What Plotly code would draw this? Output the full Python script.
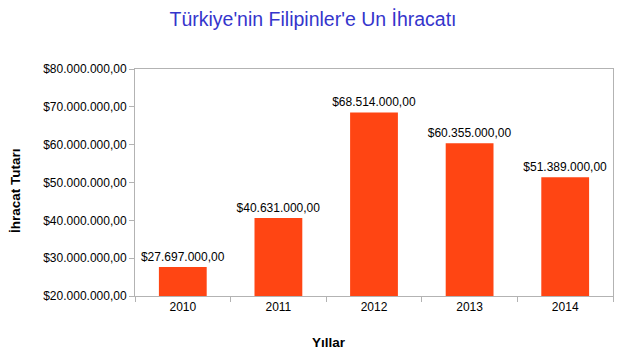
import plotly.graph_objects as go

years = ["2010", "2011", "2012", "2013", "2014"]
values = [27697000, 40631000, 68514000, 60355000, 51389000]

FONT = "Liberation Sans, Arial"

fig = go.Figure(go.Bar(
    x=years, y=values, width=0.5,
    marker=dict(color="#FF4513", line=dict(width=0)),
    texttemplate="$%{y:,.2f}", textposition="outside", constraintext="none",
    textfont=dict(family=FONT, size=12, color="#000000"),
    cliponaxis=False, hoverinfo="skip",
))

fig.update_layout(
    width=621, height=360,
    margin=dict(l=135, r=8, t=69, b=64),
    paper_bgcolor="white", plot_bgcolor="white",
    separators=",.",
    font=dict(family=FONT, size=12, color="#000000"),
    title=dict(text="Türkiye'nin Filipinler'e Un İhracatı", x=313/621, xanchor="center",
               xref="container", y=1 - 19/360, yanchor="middle", yref="container",
               font=dict(family=FONT, size=19.5, color="#3535CC")),
    showlegend=False,
    annotations=[
        dict(text="<b>Yıllar</b>", xref="paper", yref="paper",
             x=(329 - 135) / (621 - 135 - 8), y=-(342 - 296) / (296 - 69),
             xanchor="center", yanchor="middle", showarrow=False,
             font=dict(family=FONT, size=13.5, color="#000000")),
        dict(text="<b>İhracat Tutarı</b>", xref="paper", yref="paper",
             x=-(135 - 15) / (621 - 135 - 8), y=(296 - 191) / (296 - 69),
             xanchor="center", yanchor="middle", showarrow=False, textangle=-90,
             font=dict(family=FONT, size=13.5, color="#000000")),
    ],
)
fig.update_yaxes(
    range=[20000000, 80000000], dtick=10000000, tickprefix="$", tickformat=",.2f",
    showgrid=False, showline=True, linecolor="#b3b3b3", mirror=True,
    ticks="outside", ticklen=5, tickcolor="#b3b3b3",
    zeroline=False, automargin=False,
    tickfont=dict(family=FONT, size=12),
)
fig.update_xaxes(
    showgrid=False, showline=True, linecolor="#b3b3b3", mirror=True,
    ticks="outside", ticklen=5, tickcolor="#b3b3b3", tickson="boundaries",
    automargin=False, tickfont=dict(family=FONT, size=12),
)

fig.write_html("out.html", config={"displayModeBar": False},
               post_script="document.body.style.margin='0';")
